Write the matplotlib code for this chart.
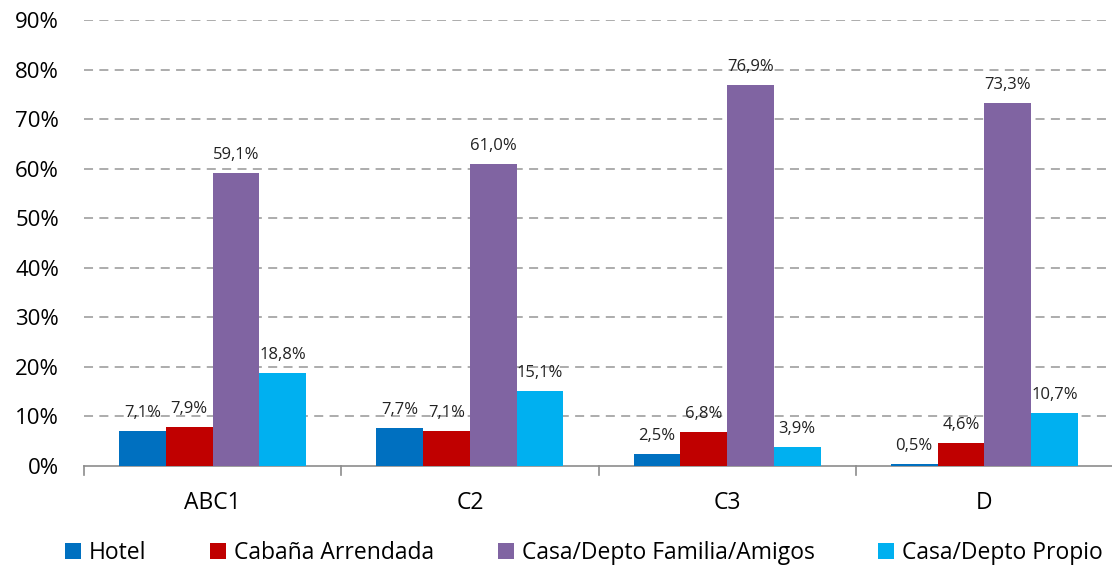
import numpy as np
import matplotlib
matplotlib.use("Agg")
from matplotlib import pyplot as plt

plt.rcParams['font.family'] = ['Open Sans', 'DejaVu Sans']

categories = ['ABC1', 'C2', 'C3', 'D']
series_names = ['Hotel', 'Cabaña Arrendada', 'Casa/Depto Familia/Amigos', 'Casa/Depto Propio']
hotel = [7.1, 7.7, 2.5, 0.5]
cabana = [7.9, 7.1, 6.8, 4.6]
familia = [59.1, 61.0, 76.9, 73.3]
propio = [18.8, 15.1, 3.9, 10.7]
colors = ['#0070C0', '#C00000', '#8064A2', '#00B0F0']

fig = plt.figure(figsize=(11.12, 5.67), dpi=100)
ax = fig.add_axes([84 / 1112, 101 / 567, 1029 / 1112, 446 / 567])

x = np.arange(len(categories))
w = 0.1818
allvals = [hotel, cabana, familia, propio]
for i, vals in enumerate(allvals):
    pos = x + (i - 1.5) * w
    ax.bar(pos, vals, w, color=colors[i], label=series_names[i], zorder=3)
    for p, v in zip(pos, vals):
        ax.text(p, v + 2.0, f"{v:.1f}%".replace('.', ','), ha='center', va='bottom',
                fontsize=12, color='#222222', zorder=4)

ax.set_xlim(-0.5, len(categories) - 0.5)
ax.set_ylim(0, 90)
ax.set_yticks(range(0, 91, 10))
ax.set_yticklabels([f"{t}%" for t in range(0, 91, 10)], fontsize=16)
for t in range(10, 91, 10):
    ax.axhline(t, color='#A6A6A6', linestyle=(0, (5, 3.5)), linewidth=1.3, zorder=1)

ax.set_xticks(x)
ax.set_xticklabels(categories, fontsize=16.5)
ax.tick_params(axis='x', length=0, pad=18)
ax.tick_params(axis='y', length=0, pad=18)
for b in np.arange(-0.5, len(categories) + 0.5, 1):
    ax.plot([b, b], [0, -1.8], color='#8C8C8C', linewidth=1.2, clip_on=False, zorder=2)

for s in ['top', 'right', 'left']:
    ax.spines[s].set_visible(False)
ax.spines['bottom'].set_color('#8C8C8C')
ax.spines['bottom'].set_linewidth(1.2)

fig.legend(loc='center', bbox_to_anchor=(56 / 1112, 0.0, 1 - 56 / 1112, 0.05),
           mode='expand', ncol=4, frameon=False, fontsize=16.5,
           handlelength=0.7, handleheight=0.7, handletextpad=0.35, borderaxespad=0)

fig.savefig('out.png', dpi=100)
